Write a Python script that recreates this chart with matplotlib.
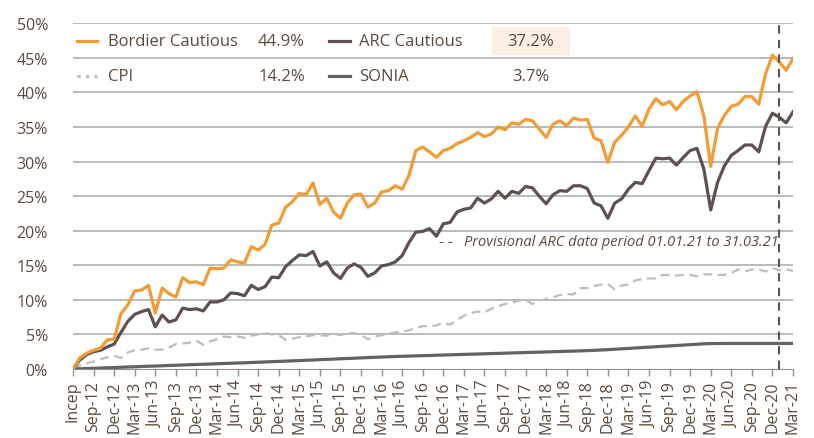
import matplotlib.pyplot as plt
import numpy as np
from matplotlib.transforms import blended_transform_factory

plt.rcParams['font.family'] = ['Open Sans', 'DejaVu Sans']

# Monthly cumulative performance (%) from inception (Jun-12) to Mar-21
bordier = [
    0, 1.6, 2.3, 2.7, 3.0, 4.2, 4.3, 8.0, 9.3, 11.3,
    11.4, 12.1, 8.1, 11.7, 10.9, 10.4, 13.2, 12.5, 12.6, 12.2,
    14.6, 14.5, 14.6, 15.8, 15.5, 15.3, 17.7, 17.2, 18.0, 20.8,
    21.1, 23.4, 24.2, 25.4, 25.2, 26.9, 23.8, 24.7, 22.7, 21.8,
    24.0, 25.2, 25.3, 23.4, 24.0, 25.6, 25.8, 26.5, 26.0, 28.0,
    31.6, 32.1, 31.4, 30.6, 31.6, 31.9, 32.6, 33.0, 33.5, 34.2,
    33.6, 34.0, 35.0, 34.6, 35.6, 35.4, 36.1, 35.9, 34.7, 33.5,
    35.4, 35.9, 35.2, 36.3, 36.0, 36.1, 33.4, 33.0, 29.9, 32.8,
    33.8, 35.0, 36.6, 35.1, 37.6, 39.1, 38.2, 38.7, 37.5, 38.7,
    39.5, 40.1, 36.6, 29.3, 34.8, 36.7, 38.0, 38.3, 39.4, 39.4,
    38.3, 42.7, 45.4, 44.4, 43.2, 44.9,
]
arc = [
    0, 1.3, 2.1, 2.5, 2.7, 3.2, 3.6, 5.3, 6.9, 7.9,
    8.3, 8.6, 6.1, 7.8, 6.8, 7.1, 8.8, 8.6, 8.7, 8.4,
    9.7, 9.7, 10.0, 11.0, 10.9, 10.6, 12.1, 11.5, 11.9, 13.3,
    13.2, 14.8, 15.7, 16.5, 16.4, 17.0, 14.9, 15.5, 13.9, 13.1,
    14.6, 15.2, 14.7, 13.4, 13.9, 14.9, 15.1, 15.5, 16.4, 18.3,
    19.8, 19.9, 20.3, 19.2, 21.0, 21.2, 22.7, 23.1, 23.3, 24.7,
    24.0, 24.6, 25.7, 24.7, 25.7, 25.4, 26.4, 26.2, 25.0, 23.9,
    25.2, 25.8, 25.7, 26.5, 26.5, 26.1, 24.0, 23.6, 21.8, 24.0,
    24.6, 26.0, 27.0, 26.8, 28.7, 30.5, 30.4, 30.5, 29.5, 30.6,
    31.6, 31.9, 28.9, 23.0, 27.0, 29.4, 30.9, 31.6, 32.4, 32.4,
    31.4, 35.1, 37.0, 36.4, 35.6, 37.2,
]
cpi = [
    0, 0.5, 0.8, 1.1, 1.4, 1.7, 1.9, 1.6, 2.4, 2.7,
    2.8, 3.0, 2.8, 2.8, 3.1, 3.6, 3.7, 3.8, 4.1, 3.5,
    4.0, 4.3, 4.7, 4.6, 4.7, 4.5, 4.8, 5.0, 5.2, 5.0,
    4.9, 4.2, 4.4, 4.6, 4.7, 4.9, 4.9, 4.8, 5.1, 4.9,
    5.1, 5.2, 4.9, 4.3, 4.7, 4.9, 5.1, 5.3, 5.4, 5.6,
    5.9, 6.2, 6.2, 6.3, 6.7, 6.4, 7.1, 7.7, 8.1, 8.3,
    8.2, 8.7, 9.1, 9.4, 9.6, 9.9, 10.0, 9.4, 9.9, 10.1,
    10.4, 10.7, 10.8, 10.8, 11.7, 11.7, 12.0, 12.2, 12.3, 11.5,
    12.1, 12.2, 12.8, 13.0, 13.1, 13.1, 13.6, 13.6, 13.5, 13.6,
    13.6, 13.4, 13.7, 13.7, 13.6, 13.6, 13.9, 14.4, 14.1, 14.4,
    14.4, 14.1, 14.6, 14.3, 14.4, 14.2,
]
sonia = [
    0, 0.03, 0.07, 0.1, 0.14, 0.18, 0.21, 0.25, 0.29, 0.32,
    0.36, 0.4, 0.43, 0.47, 0.51, 0.54, 0.58, 0.62, 0.65, 0.69,
    0.72, 0.76, 0.8, 0.83, 0.87, 0.9, 0.94, 0.98, 1.02, 1.06,
    1.1, 1.14, 1.18, 1.22, 1.26, 1.3, 1.35, 1.39, 1.43, 1.48,
    1.52, 1.56, 1.61, 1.65, 1.69, 1.73, 1.77, 1.81, 1.84, 1.87,
    1.9, 1.93, 1.96, 1.99, 2.02, 2.05, 2.08, 2.11, 2.14, 2.17,
    2.2, 2.23, 2.26, 2.29, 2.32, 2.35, 2.38, 2.41, 2.44, 2.47,
    2.5, 2.53, 2.56, 2.59, 2.62, 2.66, 2.7, 2.75, 2.8, 2.86,
    2.92, 2.98, 3.04, 3.1, 3.16, 3.22, 3.28, 3.34, 3.4, 3.46,
    3.52, 3.58, 3.64, 3.68, 3.69, 3.69, 3.7, 3.7, 3.7, 3.7,
    3.7, 3.7, 3.7, 3.7, 3.7, 3.7,
]
tick_labels = ['Incep', 'Sep-12', 'Dec-12'] + [
    f'{m}-{y}' for y in range(13, 21) for m in ['Mar', 'Jun', 'Sep', 'Dec']
] + ['Mar-21']
provisional_start = 103  # Jan-21

orange = '#F39B35'
brown = '#5E5150'
slate = '#5F6468'
light = '#BDBDBD'
text_col = '#5A4A3E'

x = np.arange(len(bordier))

fig = plt.figure(figsize=(8.14, 4.39), dpi=100)
ax = fig.add_axes([73 / 814, 1 - 370 / 439, 720 / 814, 345.7 / 439])

for v in range(5, 55, 5):
    ax.axhline(v, color='#A8A8A8', linewidth=1.1, zorder=0)

ax.plot(x, cpi, color=light, linewidth=1.6, dashes=(4, 2.5), zorder=2)
ax.plot(x, sonia, color=slate, linewidth=2.3, zorder=3)
ax.plot(x, arc, color=brown, linewidth=2.3, zorder=4)
ax.plot(x, bordier, color=orange, linewidth=2.3, zorder=5)
ax.axvline(provisional_start, color=brown, linewidth=1.5, dashes=(4, 3), zorder=6)

ax.set_xlim(0, len(bordier) - 1)
ax.set_ylim(0, 50)
ax.set_yticks(range(0, 55, 5))
ax.set_yticklabels([f'{v}%' for v in range(0, 55, 5)], fontsize=11.5, color=text_col)
ax.tick_params(axis='y', length=0, pad=18)
ax.set_xticks(x[::3])
ax.set_xticklabels(tick_labels, rotation=90, fontsize=11.5, color=text_col)
ax.tick_params(axis='x', length=5, color='#909090', width=1, pad=3)
for s in ['top', 'right', 'left']:
    ax.spines[s].set_visible(False)
ax.spines['bottom'].set_color('#909090')

# legend table
tr = blended_transform_factory(ax.transAxes, ax.transData)
ax.add_patch(plt.Rectangle((0.582, 45.4), 0.108, 4.1, transform=tr,
                           facecolor='#FCF0E5', edgecolor='none', zorder=1))
rows = [
    (orange, '-', 'Bordier Cautious', bordier, brown, '-', 'ARC Cautious', arc, 47.4),
    (light, ':', 'CPI', cpi, slate, '-', 'SONIA', sonia, 42.4),
]
for c1, ls1, n1, d1, c2, ls2, n2, d2, yy in rows:
    ax.plot([0.006, 0.034], [yy, yy], color=c1, linestyle=ls1, linewidth=2.3, transform=tr)
    ax.text(0.049, yy, n1, transform=tr, va='center', fontsize=12, color=text_col)
    ax.text(0.257, yy, f'{d1[-1]:.1f}%', transform=tr, va='center', fontsize=12, color=text_col)
    ax.plot([0.355, 0.385], [yy, yy], color=c2, linestyle=ls2, linewidth=2.3, transform=tr)
    ax.text(0.397, yy, n2, transform=tr, va='center', fontsize=12, color=text_col)
    ax.text(0.636, yy, f'{d2[-1]:.1f}%', transform=tr, va='center', ha='center',
            fontsize=12, color=text_col)

ax.text(0.508, 18.5, '- -', transform=tr, va='center', fontsize=11, color='#505050')
ax.text(0.543, 18.5, 'Provisional ARC data period 01.01.21 to 31.03.21', transform=tr,
        va='center', fontsize=10.5, style='italic', color=text_col)

fig.savefig('out.png', dpi=100)
